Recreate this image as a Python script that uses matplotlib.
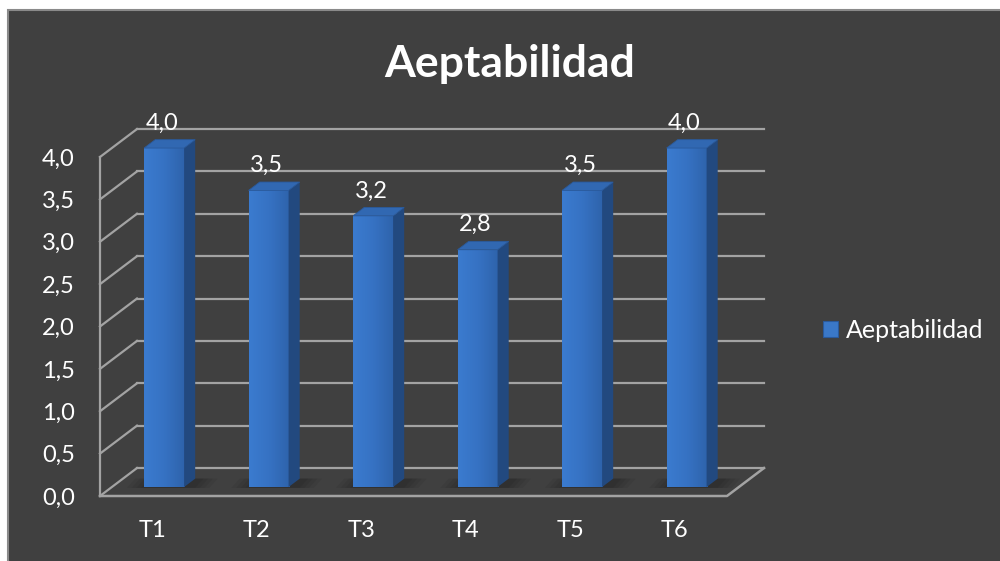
import matplotlib

matplotlib.use("Agg")
import matplotlib.pyplot as plt
import numpy as np
from matplotlib.colors import LinearSegmentedColormap
from matplotlib.patches import Patch, Polygon, Rectangle
from matplotlib.ticker import FuncFormatter

plt.rcParams["font.family"] = ["Lato", "DejaVu Sans"]

TITLE = "Aeptabilidad"
SERIES = "Aeptabilidad"
CATEGORIES = ["T1", "T2", "T3", "T4", "T5", "T6"]
VALUES = [4.0, 3.5, 3.2, 2.8, 3.5, 4.0]
Y_TICKS = [0.0, 0.5, 1.0, 1.5, 2.0, 2.5, 3.0, 3.5, 4.0]

BG = "#404040"
GRID = "#a3a3a3"
FRONT_DARK = "#2e63ab"
FRONT_LIGHT = "#3b7bcf"
SIDE = "#22497f"
TOP = "#3168b2"

# fake 3-D: depth of the floor expressed in data units (x: categories, y: value)
DX, DY = 0.354, 0.330
D0, DD = 0.32, 0.30     # bar front plane and bar depth, as fractions of the floor depth
BAR_W = 0.383


def comma(v, _pos=None):
    return f"{v:.1f}".replace(".", ",")


fig = plt.figure(figsize=(10, 5.61), dpi=100, facecolor="white")
fig.patches.append(Rectangle((0.008, -0.02), 1.02, 1.02 - 10 / 561, transform=fig.transFigure,
                             facecolor=BG, edgecolor="#8a8a8a", lw=1.5, zorder=-5))

ax = fig.add_axes([0.100, 65 / 561, 0.627, 4.5 * 84.75 / 561])
ax.set_facecolor("none")
for s in ax.spines.values():
    s.set_visible(False)

n = len(CATEGORIES)
# side wall, back wall and floor
for v in Y_TICKS:
    ax.plot([0, DX], [v, v + DY], color=GRID, lw=1.6, zorder=1, clip_on=False)
    ax.plot([DX, n + DX], [v + DY, v + DY], color=GRID, lw=1.6, zorder=1, clip_on=False)
ax.plot([0, 0], [0, Y_TICKS[-1]], color=GRID, lw=1.6, zorder=1, clip_on=False)
ax.plot([0, n, n + DX], [0, 0, DY], color=GRID, lw=1.8, zorder=1, clip_on=False)

centers = np.arange(n) + 0.5
x_front = centers + D0 * DX
base = D0 * DY

# soft floor shadows, mostly to the right of each bar base
for xc in x_front:
    for k in range(4):
        g = 0.045 * (3 - k)
        xl, xr = xc - BAR_W / 2 - 0.03 - g, xc + BAR_W / 2 + DD * DX + 0.08 + g
        shadow = Polygon([(xl, base - 0.01), (xr - 0.08, base - 0.01),
                          (xr, base + DD * DY), (xl + 0.08, base + DD * DY)],
                         closed=True, facecolor="black", edgecolor="none", alpha=0.06,
                         zorder=2, clip_on=False)
        ax.add_patch(shadow)

bars = ax.bar(x_front, VALUES, width=BAR_W, bottom=base, color=FRONT_DARK,
              edgecolor="none", zorder=3)

grad = LinearSegmentedColormap.from_list("face", [FRONT_LIGHT, "#3672c3", FRONT_DARK])
gx = np.linspace(0, 1, 64)[None, :]
for bar, xc, v in zip(bars, x_front, VALUES):
    x0, x1 = xc - BAR_W / 2, xc + BAR_W / 2
    im = ax.imshow(gx, cmap=grad, extent=(x0, x1, base, base + v), aspect="auto",
                   origin="lower", zorder=3.1, interpolation="bilinear")
    im.set_clip_path(bar)
    side = Polygon([(x1, base), (x1 + DD * DX, base + DD * DY),
                    (x1 + DD * DX, base + v + DD * DY), (x1, base + v)],
                   closed=True, facecolor=SIDE, edgecolor="none", zorder=3.2, clip_on=False)
    top = Polygon([(x0, base + v), (x1, base + v), (x1 + DD * DX, base + v + DD * DY),
                   (x0 + DD * DX, base + v + DD * DY)],
                  closed=True, facecolor=TOP, edgecolor="#2a5a9c", lw=0.6,
                  zorder=3.2, clip_on=False)
    ax.add_patch(side)
    ax.add_patch(top)
    ax.text(xc - 0.02, base + v + 0.295, comma(v), color="white", fontsize=17,
            ha="center", va="center", zorder=4)

ax.set_xlim(0, n)
ax.set_ylim(0, 4.5)
ax.set_yticks(Y_TICKS)
ax.yaxis.set_major_formatter(FuncFormatter(comma))
ax.set_xticks(centers)
ax.set_xticklabels(CATEGORIES)
ax.tick_params(axis="y", length=0, pad=18, labelsize=17, labelcolor="white")
ax.tick_params(axis="x", length=0, pad=17, labelsize=17, labelcolor="white")

fig.text(0.510, 1 - 77 / 561, TITLE, color="white", fontsize=32, fontweight="bold",
         ha="center", va="baseline")

handle = Patch(facecolor="#3a78c8", edgecolor="#2a5a9c", lw=0.8)
leg = fig.legend([handle], [SERIES], loc="center left",
                 bbox_to_anchor=(0.823, 1 - 330 / 561), frameon=False,
                 fontsize=18, labelcolor="white", handlelength=0.6, handleheight=0.6,
                 handletextpad=0.3, borderpad=0, borderaxespad=0)

fig.savefig("out.png", dpi=100, facecolor=fig.get_facecolor())
